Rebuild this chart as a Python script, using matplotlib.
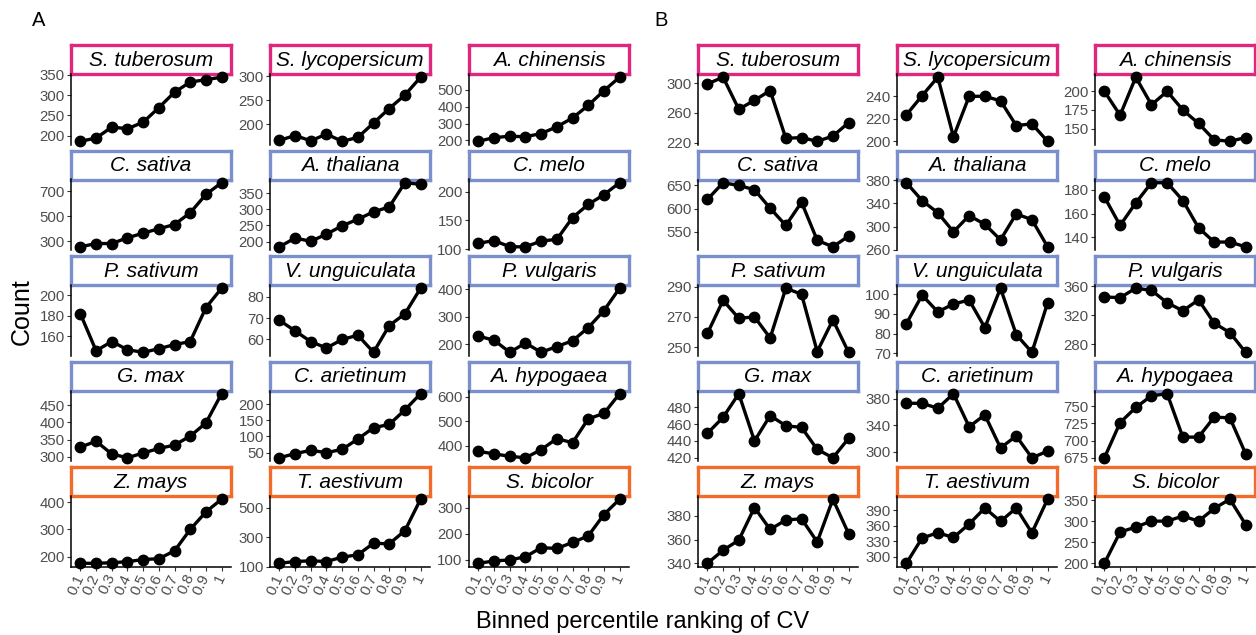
import matplotlib

matplotlib.use("Agg")
import matplotlib.pyplot as plt

PINK = "#E0267D"
BLUE = "#7A8FCB"
ORANGE = "#F26B2A"
TICK_GRAY = "#4D4D4D"

species = [
    "S. tuberosum", "S. lycopersicum", "A. chinensis",
    "C. sativa", "A. thaliana", "C. melo",
    "P. sativum", "V. unguiculata", "P. vulgaris",
    "G. max", "C. arietinum", "A. hypogaea",
    "Z. mays", "T. aestivum", "S. bicolor",
]
species_group = ["pink"] * 3 + ["blue"] * 9 + ["orange"] * 3
bins = ["0.1", "0.2", "0.3", "0.4", "0.5", "0.6", "0.7", "0.8", "0.9", "1"]

# panel A: counts per bin, one row per species
counts_a = [
    [186, 194, 221, 217, 233, 269, 307, 332, 338, 344],
    [167, 177, 166, 180, 165, 173, 203, 233, 261, 298],
    [195, 217, 225, 222, 241, 281, 333, 408, 495, 575],
    [255, 281, 281, 327, 364, 399, 433, 527, 673, 767],
    [184, 211, 201, 223, 249, 269, 292, 307, 382, 377],
    [110, 115, 104, 104, 114, 117, 155, 178, 195, 216],
    [182, 146, 155, 147, 144.5, 148, 152, 155, 188, 207],
    [69, 64, 59, 56, 60, 62, 54, 66.5, 72, 84],
    [229, 214, 170, 204, 170, 191, 212, 260, 322, 404],
    [328, 345, 308, 297, 311, 324, 334, 360, 398, 483],
    [34, 47, 57, 50, 60, 92, 127, 137, 182, 232],
    [378, 368, 358, 352, 385, 430, 413, 510, 532, 612],
    [175, 175, 177, 181, 189, 192, 221, 300, 365, 412],
    [122, 134, 139, 134, 164, 180, 259, 255, 345, 560],
    [87, 96, 100, 112, 147, 144, 167, 192, 274, 333],
]
ticks_a = [
    [200, 250, 300, 350], [200, 250, 300], [200, 300, 400, 500],
    [300, 500, 700], [200, 250, 300, 350], [100, 150, 200],
    [160, 180, 200], [60, 70, 80], [200, 300, 400],
    [300, 350, 400, 450], [50, 100, 150, 200], [400, 500, 600],
    [200, 300, 400], [100, 300, 500], [100, 200, 300],
]

# panel B
counts_b = [
    [299, 308, 265, 277, 290, 226, 227, 222, 229, 247],
    [223.5, 240.6, 257, 204, 240, 240, 236, 214, 215.5, 200],
    [200, 168, 219, 182, 200, 175, 157, 135, 133, 138],
    [620, 656, 650, 641, 601, 564, 614, 532, 518, 541],
    [376, 345, 324, 291, 319, 304, 277, 322, 312, 265],
    [174, 150, 169, 186, 186, 171, 148, 136, 136, 132],
    [259, 281, 269, 270, 256, 289, 285, 247, 268, 246.5],
    [85, 99.5, 91, 95, 97, 83, 103, 79.5, 70.5, 95.5],
    [345, 344, 357, 354, 337, 326, 341, 309, 296, 269],
    [449, 468, 496, 440, 470, 458, 456, 430, 420, 443],
    [373.5, 373.5, 366, 388, 338, 356, 306, 324, 291, 301],
    [675, 726, 748, 765, 768, 705, 705, 734, 733, 681],
    [340, 351, 359.5, 387, 368.5, 376.5, 377.5, 358, 394, 365],
    [287, 336, 346, 337, 363, 394, 368, 394, 346, 411],
    [200, 274, 286, 300, 300, 312, 300, 330, 352, 292],
]
ticks_b = [
    [220, 260, 300], [200, 220, 240], [150, 175, 200],
    [550, 600, 650], [260, 300, 340, 380], [140, 160, 180],
    [250, 270, 290], [70, 80, 90, 100], [280, 320, 360],
    [420, 440, 460, 480], [300, 340, 380], [675, 700, 725, 750],
    [340, 360, 380], [300, 330, 360, 390], [200, 250, 300, 350],
]

GROUP_COLORS = {"pink": PINK, "blue": BLUE, "orange": ORANGE}

W, H = 1256, 635
COL_LEFTS_A = [71, 270, 469]
COL_LEFTS_B = [698, 897, 1095]
COL_W = 160
ROW_TOP0 = 45
ROW_PITCH = 105.5
STRIP_H = 29
PLOT_H = 70.5


def px_rect(x, y, w, h):
    return [x / W, 1 - (y + h) / H, w / W, h / H]


def draw_panel(fig, col_lefts, counts, ticks):
    x = list(range(1, len(bins) + 1))
    for i, name in enumerate(species):
        row, col = divmod(i, 3)
        left = col_lefts[col]
        top = ROW_TOP0 + row * ROW_PITCH
        color = GROUP_COLORS[species_group[i]]

        # strip first, panel on top so end points can spill over like ggplot
        sax = fig.add_axes(px_rect(left, top, COL_W, STRIP_H))
        sax.set_zorder(1)
        sax.set_xticks([])
        sax.set_yticks([])
        for sp in sax.spines.values():
            sp.set_color(color)
            sp.set_linewidth(2.4)
        sax.text(0.5, 0.47, name, transform=sax.transAxes, ha="center", va="center",
                 fontsize=15, style="italic", color="black")

        ax = fig.add_axes(px_rect(left, top + STRIP_H, COL_W, PLOT_H))
        ax.set_zorder(2)
        ax.patch.set_alpha(0)
        vals = counts[i]
        ax.plot(x, vals, color="black", linewidth=2.4, marker="o",
                markersize=7.5, solid_capstyle="round", clip_on=False)
        lo, hi = min(vals), max(vals)
        pad = (hi - lo) * 0.05
        ax.set_ylim(lo - pad, hi + pad)
        ax.set_xlim(0.4, len(bins) + 0.6)
        ax.set_yticks(ticks[i])
        ax.tick_params(axis="y", length=3, width=0.8, color="#333333",
                       labelsize=10.8, labelcolor=TICK_GRAY, pad=1.5)
        for sp in ("top", "right"):
            ax.spines[sp].set_visible(False)
        ax.spines["left"].set_linewidth(1.1)
        if row == 4:
            ax.set_xticks(x)
            ax.set_xticklabels(bins, rotation=65, ha="right", va="center",
                               rotation_mode="anchor")
            ax.tick_params(axis="x", length=3, width=0.8, color="#333333",
                           labelsize=10.8, labelcolor=TICK_GRAY, pad=3)
            ax.spines["bottom"].set_linewidth(1.1)
        else:
            ax.set_xticks([])
            ax.spines["bottom"].set_visible(False)


def main():
    plt.rcParams["font.family"] = ["Liberation Sans", "DejaVu Sans"]
    fig = plt.figure(figsize=(W / 100, H / 100), dpi=100)

    draw_panel(fig, COL_LEFTS_A, counts_a, ticks_a)
    draw_panel(fig, COL_LEFTS_B, counts_b, ticks_b)

    fig.text(32 / W, 1 - 20 / H, "A", fontsize=14.5, ha="left", va="center")
    fig.text(654 / W, 1 - 20 / H, "B", fontsize=14.5, ha="left", va="center")
    fig.text(22 / W, 1 - 312 / H, "Count", fontsize=18, rotation=90,
             ha="center", va="center")
    fig.text(643 / W, 1 - 622 / H, "Binned percentile ranking of CV", fontsize=17,
             ha="center", va="center")

    fig.savefig("out.png", dpi=100, facecolor="white")
    plt.close(fig)


if __name__ == "__main__":
    main()
